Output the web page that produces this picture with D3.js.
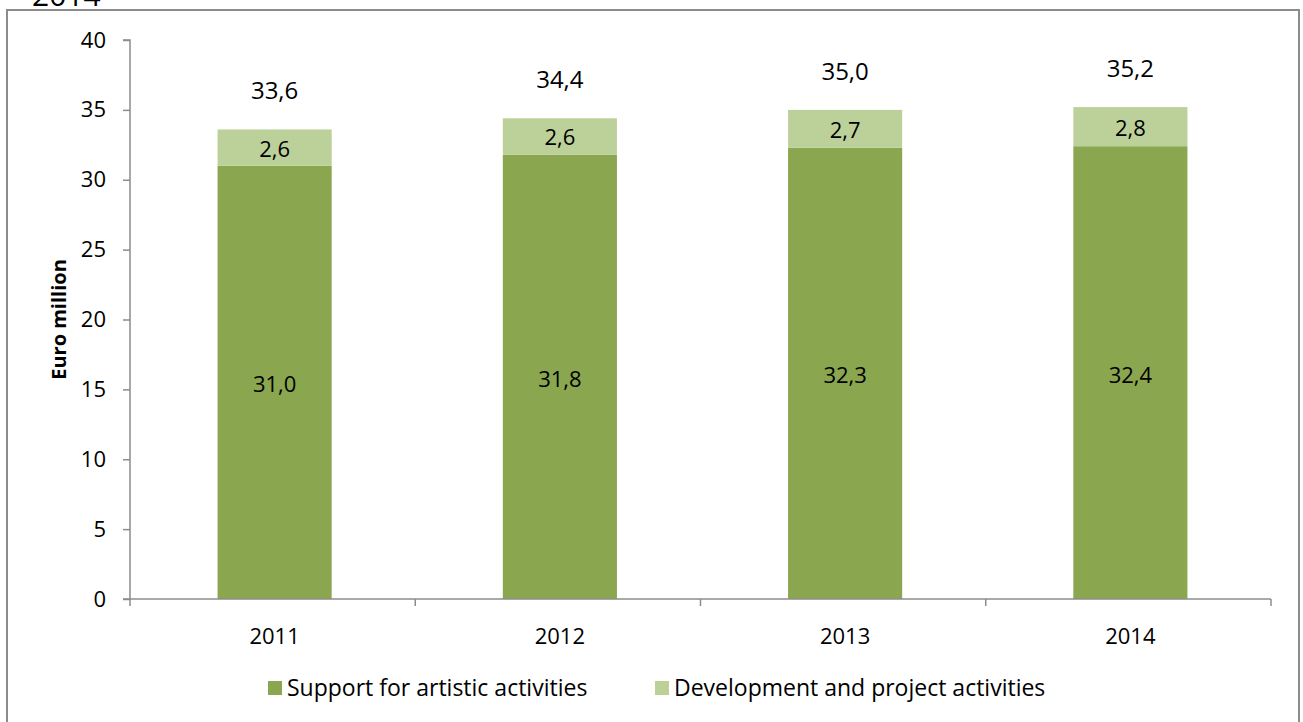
<!DOCTYPE html>
<html><head><meta charset="utf-8">
<script src="https://cdn.jsdelivr.net/npm/d3@7"></script>
<style>
html,body{margin:0;padding:0;background:#fff;overflow:hidden}
svg{display:block;font-family:"Open Sans",Lato,sans-serif}
</style></head>
<body>
<svg id="chart" width="1303" height="722"></svg>
<script>
const years = ["2011","2012","2013","2014"];
const support = [31.0, 31.8, 32.3, 32.4];
const development = [2.6, 2.6, 2.7, 2.8];
const totals = [33.6, 34.4, 35.0, 35.2];
const yTicks = [0,5,10,15,20,25,30,35,40];
const seriesNames = ["Support for artistic activities","Development and project activities"];
const colors = ["#8AA64F","#BCD19A"];

(function(){
const svg = d3.select("#chart");
const fmt = v => v.toFixed(1).replace(".", ",");
const FF = "'Open Sans',Lato,sans-serif";

// clipped title remnant
svg.append("text").attr("x",32).attr("y",6).attr("font-size",30).attr("fill","#000").text("2014");

// frame
svg.append("rect").attr("x",7).attr("y",10).attr("width",1292).attr("height",730)
  .attr("fill","#fff").attr("stroke","#8c8c8c").attr("stroke-width",2);

const pL=130, pR=1271, pT=40, pB=599;
const x = d3.scaleBand().domain(years).range([pL,pR]).paddingInner(0.6).paddingOuter(0.3);
const xb = d3.scaleBand().domain(years).range([pL,pR]);
const y = d3.scaleLinear().domain([0,40]).range([pB,pT]);

const stack = years.map((yr,i)=>({yr, s:support[i], d:development[i], t:totals[i]}));

svg.selectAll(".bs").data(stack).enter().append("rect")
  .attr("x",d=>x(d.yr)+2).attr("width",x.bandwidth())
  .attr("y",d=>y(d.s)).attr("height",d=>y(0)-y(d.s)).attr("fill",colors[0]);
svg.selectAll(".bd").data(stack).enter().append("rect")
  .attr("x",d=>x(d.yr)+2).attr("width",x.bandwidth())
  .attr("y",d=>y(d.s+d.d)).attr("height",d=>y(d.s)-y(d.s+d.d)).attr("fill",colors[1]);

const yAxis = d3.axisLeft(y).tickValues(yTicks).tickSize(7).tickPadding(17).tickFormat(d=>d);
const gy = svg.append("g").attr("transform",`translate(${pL},0)`).call(yAxis);
gy.select(".domain").attr("stroke","#8c8c8c").attr("stroke-width",1.5).attr("d",`M-7,${pT}H0V${pB}H-7`);
gy.selectAll(".tick line").attr("stroke","#8c8c8c").attr("stroke-width",1.5);
gy.selectAll(".tick text").attr("font-size",22).attr("fill","#000").attr("font-family",FF);

const gx = svg.append("g").attr("transform",`translate(0,${pB})`);
gx.append("line").attr("x1",pL).attr("x2",pR).attr("stroke","#8c8c8c").attr("stroke-width",1.5);
const bounds = years.map(yr=>xb(yr)).concat([pR]);
gx.selectAll(".xt").data(bounds).enter().append("line")
  .attr("x1",d=>d).attr("x2",d=>d).attr("y1",0).attr("y2",7).attr("stroke","#8c8c8c").attr("stroke-width",1.5);
gx.selectAll(".xl").data(years).enter().append("text")
  .attr("x",d=>xb(d)+xb.bandwidth()/2+2).attr("y",45).attr("text-anchor","middle")
  .attr("font-size",22).attr("fill","#000").text(d=>d);

const cx = d => x(d.yr)+x.bandwidth()/2+2;
svg.selectAll(".ls").data(stack).enter().append("text")
  .attr("x",cx).attr("y",d=>y(d.s/2)+10).attr("text-anchor","middle")
  .attr("font-size",22).attr("fill","#000").text(d=>fmt(d.s));
svg.selectAll(".ld").data(stack).enter().append("text")
  .attr("x",cx).attr("y",d=>y(d.s+d.d/2)+9).attr("text-anchor","middle")
  .attr("font-size",22).attr("fill","#000").text(d=>fmt(d.d));
svg.selectAll(".lt").data(stack).enter().append("text")
  .attr("x",cx).attr("y",d=>y(d.t)-30).attr("text-anchor","middle")
  .attr("font-size",24).attr("fill","#000").text(d=>fmt(d.t));

svg.append("text").attr("transform",`translate(66,${(pT+pB)/2}) rotate(-90)`)
  .attr("text-anchor","middle").attr("font-size",20).attr("font-weight","bold").attr("fill","#000").text("Euro million");

const lg = svg.append("g");
const legX = [268, 655];
seriesNames.forEach((n,i)=>{
  lg.append("rect").attr("x",legX[i]).attr("y",681).attr("width",14).attr("height",14).attr("fill",colors[i]);
  lg.append("text").attr("x",legX[i]+19).attr("y",696).attr("font-size",23).attr("fill","#000").text(n);
});
})();
</script>
</body></html>
